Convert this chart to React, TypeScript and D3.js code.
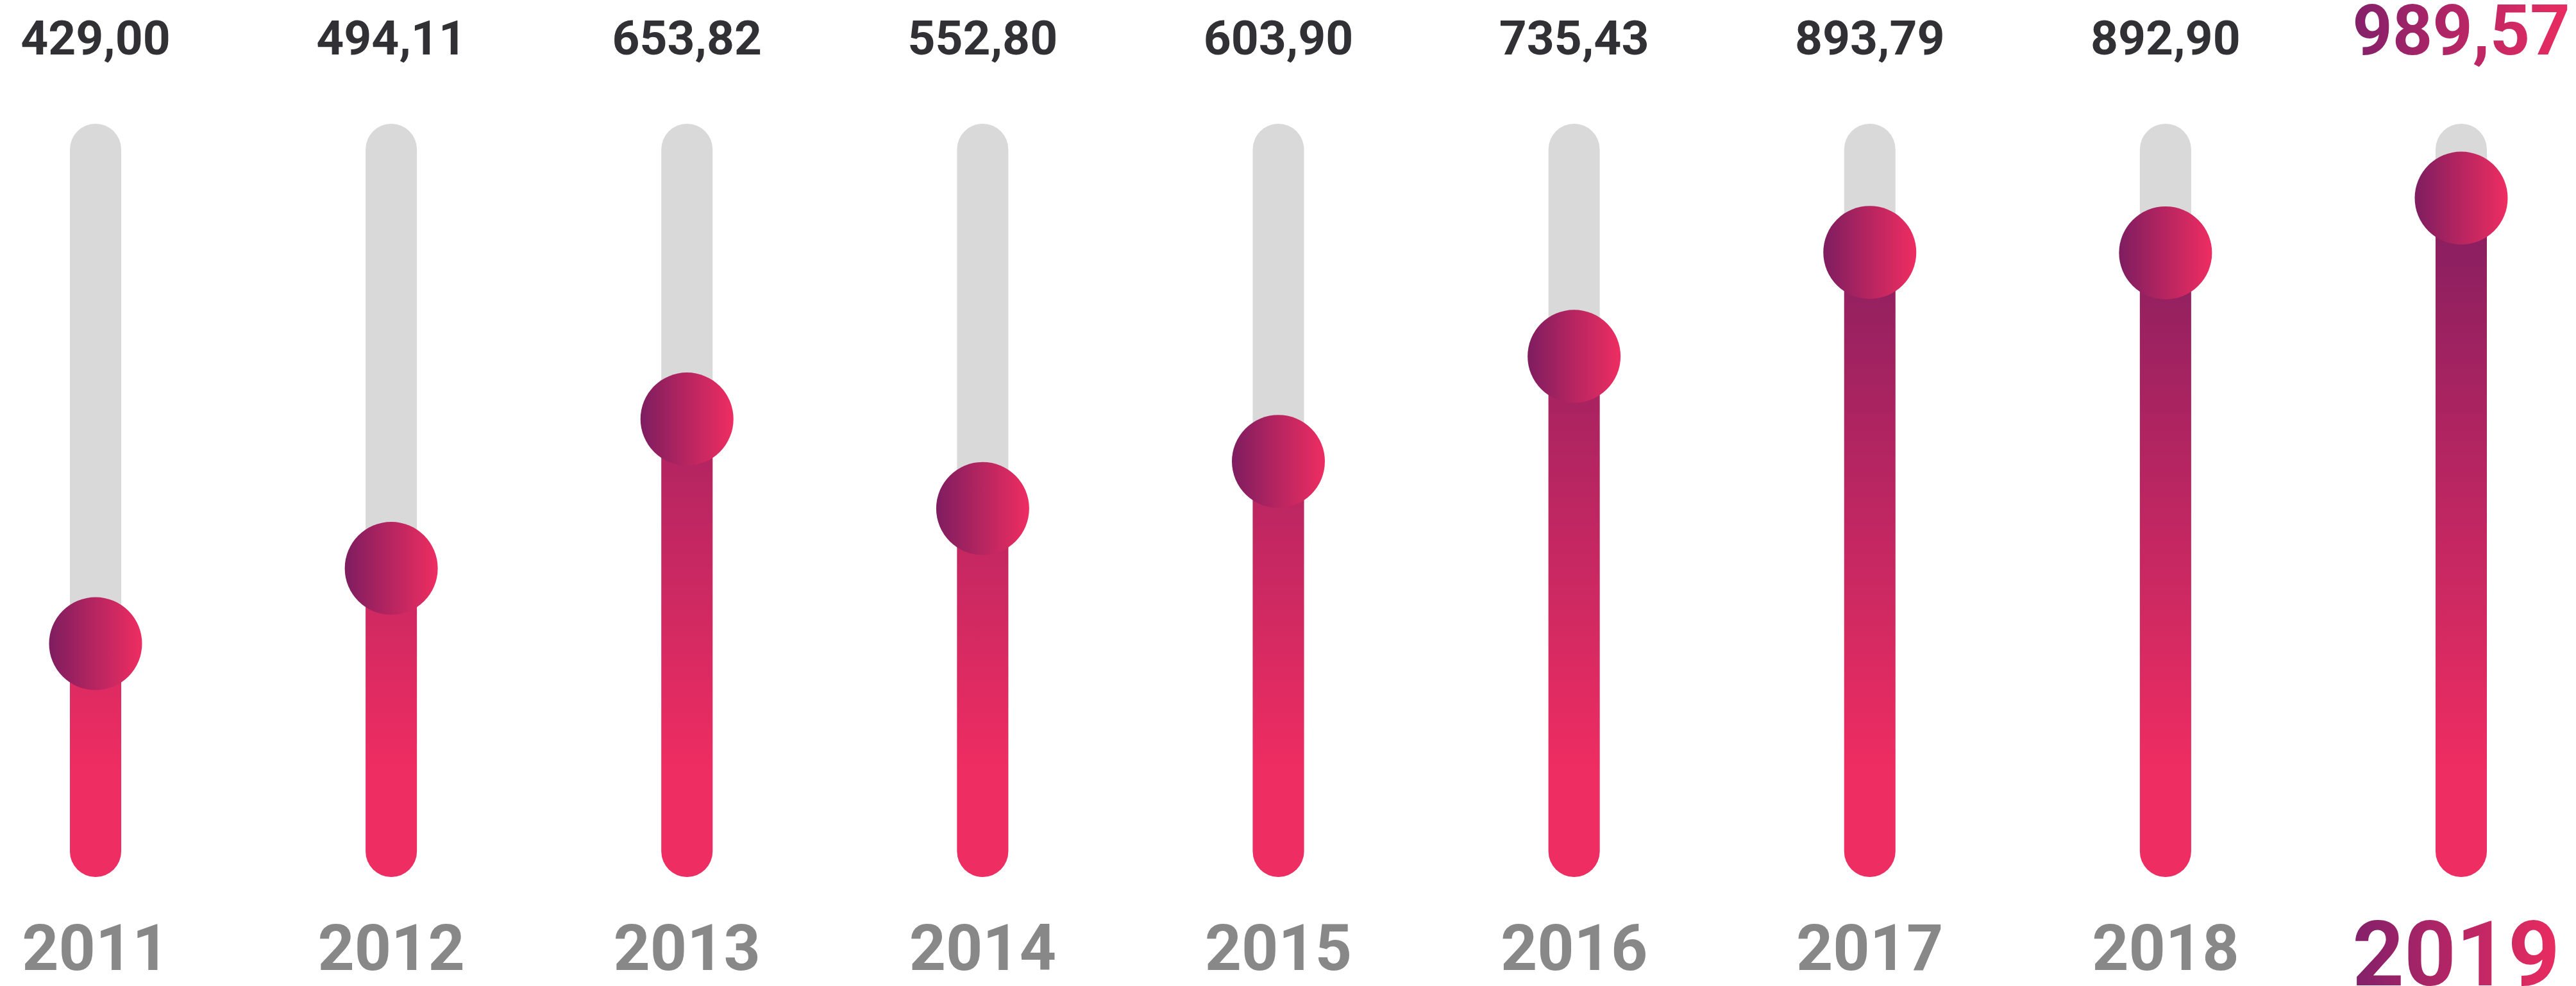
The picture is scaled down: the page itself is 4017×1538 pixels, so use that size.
import React from "react";
import * as d3 from "d3";

const years = ["2011", "2012", "2013", "2014", "2015", "2016", "2017", "2018", "2019"];
const values = [429.0, 494.11, 653.82, 552.8, 603.9, 735.43, 893.79, 892.9, 989.57];
const valueLabels = ["429,00", "494,11", "653,82", "552,80", "603,90", "735,43", "893,79", "892,90", "989,57"];
const highlightYear = "2019";

const W = 4017;
const H = 1538;
const TRACK_TOP = 193;
const TRACK_BOTTOM = 1368;
const BAR_W = 80;
const R = 72.5;

export default function App() {
  const x = d3.scalePoint<string>().domain(years).range([149, 3838]).padding(0);
  const y = d3.scaleLog().domain([429, 989.57]).range([1004, 309]);

  return (
    <div style={{ position: "fixed", left: 0, top: 0 }}>
      <svg width={W} height={H} viewBox={`0 0 ${W} ${H}`} style={{ display: "block" }}>
        <defs>
          <linearGradient id="barGrad" gradientUnits="userSpaceOnUse" x1="0" y1="300" x2="0" y2="1200">
            <stop offset="0" stopColor="#821E60" />
            <stop offset="1" stopColor="#EE2D62" />
          </linearGradient>
          <linearGradient id="dotGrad" x1="0" y1="0" x2="1" y2="0">
            <stop offset="0" stopColor="#7E1D60" />
            <stop offset="0.5" stopColor="#B72560" />
            <stop offset="1" stopColor="#EE2D62" />
          </linearGradient>
          <linearGradient id="textGrad" x1="0" y1="0" x2="1" y2="0">
            <stop offset="0" stopColor="#82206A" />
            <stop offset="1" stopColor="#EA2C60" />
          </linearGradient>
        </defs>
        <rect x={0} y={0} width={W} height={H} fill="#ffffff" />
        {years.map((yr, i) => {
          const cx = x(yr) as number;
          const cy = y(values[i]);
          const hl = yr === highlightYear;
          return (
            <g key={yr}>
              <rect
                x={cx - BAR_W / 2}
                y={TRACK_TOP}
                width={BAR_W}
                height={TRACK_BOTTOM - TRACK_TOP}
                rx={BAR_W / 2}
                ry={BAR_W / 2}
                fill="#D9D9D9"
              />
              <rect
                x={cx - BAR_W / 2}
                y={cy}
                width={BAR_W}
                height={TRACK_BOTTOM - cy}
                rx={BAR_W / 2}
                ry={BAR_W / 2}
                fill="url(#barGrad)"
              />
              <circle cx={cx} cy={cy} r={R} fill="url(#dotGrad)" />
              <text
                x={cx}
                y={85}
                textAnchor="middle"
                fontFamily="Roboto, 'Noto Sans', sans-serif"
                fontWeight={700}
                fontSize={hl ? 109 : 75}
                fill={hl ? "url(#textGrad)" : "#303035"}
              >
                {valueLabels[i]}
              </text>
              <text
                x={hl ? cx - 8 : cx}
                y={hl ? 1537 : 1513}
                textAnchor="middle"
                fontFamily="Roboto, 'Noto Sans', sans-serif"
                fontWeight={700}
                fontSize={hl ? 141 : 100}
                fill={hl ? "url(#textGrad)" : "#888888"}
              >
                {yr}
              </text>
            </g>
          );
        })}
      </svg>
    </div>
  );
}
